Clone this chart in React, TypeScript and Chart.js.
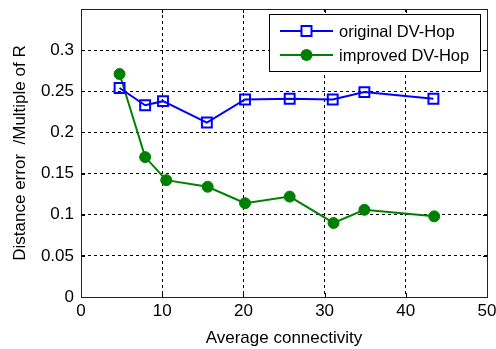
import { useEffect, useRef } from 'react';
import { Chart, registerables } from 'chart.js';

Chart.register(...registerables);

const seriesNames = ['original DV-Hop', 'improved DV-Hop'];
const connectivityOriginal = [4.75, 7.9, 10.1, 15.5, 20.2, 25.7, 31.0, 34.9, 43.4];
const errorOriginal = [0.254, 0.233, 0.238, 0.212, 0.240, 0.241, 0.240, 0.249, 0.241];
const connectivityImproved = [4.75, 7.9, 10.5, 15.6, 20.2, 25.7, 31.1, 34.9, 43.5];
const errorImproved = [0.271, 0.170, 0.142, 0.134, 0.114, 0.122, 0.090, 0.106, 0.098];
const xTickValues = [0, 10, 20, 30, 40, 50];
const yTickValues = [0, 0.05, 0.1, 0.15, 0.2, 0.25, 0.3];
const xTitle = 'Average connectivity';
const yTitle = 'Distance error  /Multiple of R';

const FONT = '"Liberation Sans", Arial, sans-serif';
const BLUE = '#0000ff';
const GREEN = '#008000';

const framePlugin = {
  id: 'frameAndLegend',
  afterDraw(chart: any) {
    const { ctx, chartArea } = chart;
    const { left, right, top, bottom } = chartArea;
    const xs = chart.scales.x;
    const ys = chart.scales.y;
    ctx.save();
    ctx.strokeStyle = '#000';
    ctx.lineWidth = 1;
    ctx.setLineDash([]);
    const tl = 4;
    ctx.beginPath();
    xTickValues.forEach((v) => {
      const px = Math.round(xs.getPixelForValue(v)) + 0.5;
      ctx.moveTo(px, bottom);
      ctx.lineTo(px, bottom - tl);
      ctx.moveTo(px, top);
      ctx.lineTo(px, top + tl);
    });
    yTickValues.forEach((v) => {
      const py = Math.round(ys.getPixelForValue(v)) + 0.5;
      ctx.moveTo(left, py);
      ctx.lineTo(left + tl, py);
      ctx.moveTo(right, py);
      ctx.lineTo(right - tl, py);
    });
    ctx.stroke();
    ctx.strokeStyle = '#222';
    ctx.strokeRect(Math.round(left) + 0.5, Math.round(top) + 0.5, Math.round(right - left), Math.round(bottom - top));

    // legend
    const lx = 269.5, ly = 14.5, lw = 211, lh = 57;
    ctx.fillStyle = '#fff';
    ctx.fillRect(lx, ly, lw, lh);
    ctx.strokeStyle = '#000';
    ctx.strokeRect(lx, ly, lw, lh);
    const rows = [31, 55];
    chart.data.datasets.forEach((ds: any, i: number) => {
      const y = rows[i];
      ctx.strokeStyle = ds.borderColor;
      ctx.lineWidth = 2;
      ctx.beginPath();
      ctx.moveTo(280, y);
      ctx.lineTo(333, y);
      ctx.stroke();
      const mx = 306.5;
      if (i === 0) {
        ctx.fillStyle = '#fff';
        ctx.fillRect(mx - 5, y - 5, 10, 10);
        ctx.strokeRect(mx - 5, y - 5, 10, 10);
      } else {
        ctx.fillStyle = ds.backgroundColor;
        ctx.beginPath();
        ctx.arc(mx, y, 6, 0, Math.PI * 2);
        ctx.fill();
      }
      ctx.fillStyle = '#000';
      ctx.font = `16.5px ${FONT}`;
      ctx.textBaseline = 'middle';
      ctx.textAlign = 'left';
      ctx.fillText(ds.label, 339, y + 1);
    });
    ctx.restore();
  },
};

export default function App() {
  const ref = useRef<HTMLCanvasElement>(null);
  useEffect(() => {
    const canvas = ref.current;
    if (!canvas) return;
    const chart = new Chart(canvas, {
      type: 'scatter',
      data: {
        datasets: [
          {
            label: seriesNames[0],
            data: connectivityOriginal.map((x, i) => ({ x, y: errorOriginal[i] })),
            showLine: true,
            borderColor: BLUE,
            backgroundColor: '#ffffff',
            borderWidth: 2,
            pointStyle: 'rect',
            pointRadius: 7,
            pointBorderWidth: 2,
            pointBorderColor: BLUE,
            pointBackgroundColor: 'rgba(255,255,255,0)',
          },
          {
            label: seriesNames[1],
            data: connectivityImproved.map((x, i) => ({ x, y: errorImproved[i] })),
            showLine: true,
            borderColor: GREEN,
            backgroundColor: GREEN,
            borderWidth: 2,
            pointStyle: 'circle',
            pointRadius: 5.5,
            pointBorderWidth: 1,
            pointBorderColor: GREEN,
            pointBackgroundColor: GREEN,
          },
        ],
      },
      options: {
        animation: false,
        responsive: false,
        layout: { padding: { left: 0, top: 9, right: 8, bottom: 0 } },
        plugins: { legend: { display: false }, tooltip: { enabled: false } },
        scales: {
          x: {
            type: 'linear',
            min: 0,
            max: 50,
            afterFit: (s: any) => {
              s.height = 52;
              s.paddingLeft = 0;
              s.paddingRight = 0;
            },
            ticks: {
              stepSize: 10,
              color: '#000',
              padding: 4,
              font: { family: FONT, size: 17 },
            },
            grid: { color: '#000', lineWidth: 1, drawTicks: false },
            border: { display: true, color: '#000', dash: [3, 3] },
            title: {
              display: true,
              text: xTitle,
              color: '#000',
              font: { family: FONT, size: 17 },
              padding: { top: 4, bottom: 0 },
            },
          },
          y: {
            type: 'linear',
            min: 0,
            max: 0.35,
            afterFit: (s: any) => {
              s.width = 81;
              s.paddingTop = 0;
              s.paddingBottom = 0;
            },
            ticks: {
              stepSize: 0.05,
              color: '#000',
              padding: 7,
              font: { family: FONT, size: 17 },
              callback: (v: any) => (v > 0.31 ? '' : String(Number(Number(v).toFixed(2)))),
            },
            grid: { color: '#000', lineWidth: 1, drawTicks: false },
            border: { display: true, color: '#000', dash: [3, 3] },
            title: {
              display: true,
              text: yTitle,
              color: '#000',
              font: { family: FONT, size: 17 },
              padding: { top: 10, bottom: 0 },
            },
          },
        },
      },
      plugins: [framePlugin],
    });
    return () => chart.destroy();
  }, []);
  return (
    <div style={{ position: 'absolute', left: 0, top: 0, width: 496, height: 349, background: '#fff' }}>
      <canvas ref={ref} width={496} height={349} style={{ width: 496, height: 349, display: 'block' }} />
    </div>
  );
}
